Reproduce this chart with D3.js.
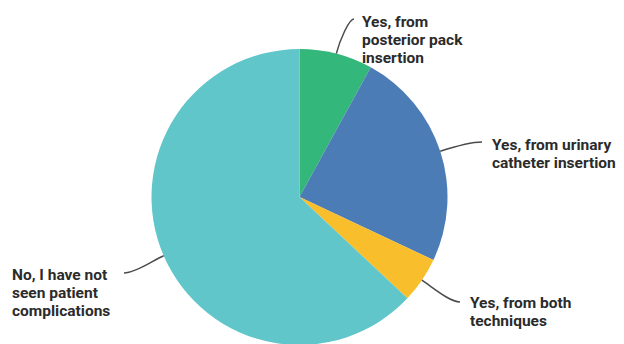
<!DOCTYPE html>
<html>
<head>
<meta charset="utf-8">
<script src="https://cdn.jsdelivr.net/npm/d3@7"></script>
<style>
  html, body { margin: 0; padding: 0; background: #ffffff; }
  svg { display: block; }
</style>
</head>
<body>
<svg id="chart" width="624" height="344"></svg>
<script>
// ---- data ----
const categories = [
  "Yes, from posterior pack insertion",
  "Yes, from urinary catheter insertion",
  "Yes, from both techniques",
  "No, I have not seen patient complications"
];
const values = [8, 24, 5, 63];
const labelLines = [
  ["Yes, from", "posterior pack", "insertion"],
  ["Yes, from urinary", "catheter insertion"],
  ["Yes, from both", "techniques"],
  ["No, I have not", "seen patient", "complications"]
];
const colors = ["#33b77a", "#4c7cb6", "#f9be2b", "#60c6c9"];

// ---- layout (positions, not data) ----
const cx = 299.5, cy = 197, radius = 148;
const labelLayout = [
  { endX: 354, endY: 19,  textX: 362, baseY: 27,  anchor: "start", dir: 1,  l1: 14, l2: 5 },
  { endX: 482, endY: 142, textX: 492, baseY: 150, anchor: "start", dir: 1,  l1: 12, l2: 10 },
  { endX: 460, endY: 302, textX: 470, baseY: 308, anchor: "start", dir: 1,  l1: 14, l2: 10 },
  { endX: 124, endY: 273, textX: 12,  baseY: 280, anchor: "start", dir: -1, l1: 12, l2: 12 }
];
const lineHeight = 18;

const svg = d3.select("#chart");
const g = svg.append("g").attr("transform", `translate(${cx},${cy})`);

const pie = d3.pie().sort(null).value(d => d.value);
const arcs = pie(categories.map((c, i) => ({ category: c, value: values[i], i })));
const arc = d3.arc().innerRadius(0).outerRadius(radius);

g.selectAll("path.slice")
  .data(arcs)
  .join("path")
  .attr("class", "slice")
  .attr("d", arc)
  .attr("fill", d => colors[d.data.i]);

// leader lines
arcs.forEach(a => {
  const L = labelLayout[a.data.i];
  const mid = (a.startAngle + a.endAngle) / 2;
  const sx = cx + radius * Math.sin(mid);
  const sy = cy - radius * Math.cos(mid);
  const ux = Math.sin(mid), uy = -Math.cos(mid);
  const p = d3.path();
  p.moveTo(sx, sy);
  p.bezierCurveTo(sx + ux * L.l1, sy + uy * L.l1,
                  L.endX - L.dir * L.l2, L.endY,
                  L.endX, L.endY);
  svg.append("path")
    .attr("d", p.toString())
    .attr("fill", "none")
    .attr("stroke", "#4a4a4a")
    .attr("stroke-width", 1.5);

  const t = svg.append("text")
    .attr("x", L.textX)
    .attr("y", L.baseY)
    .attr("text-anchor", L.anchor)
    .attr("font-family", "Roboto, 'Open Sans', sans-serif")
    .attr("font-weight", "bold")
    .attr("font-size", "15.5px")
    .attr("fill", "#2b2b2b");
  labelLines[a.data.i].forEach((line, k) => {
    t.append("tspan")
      .attr("x", L.textX)
      .attr("y", L.baseY + k * lineHeight)
      .text(line);
  });
});
</script>
</body>
</html>
